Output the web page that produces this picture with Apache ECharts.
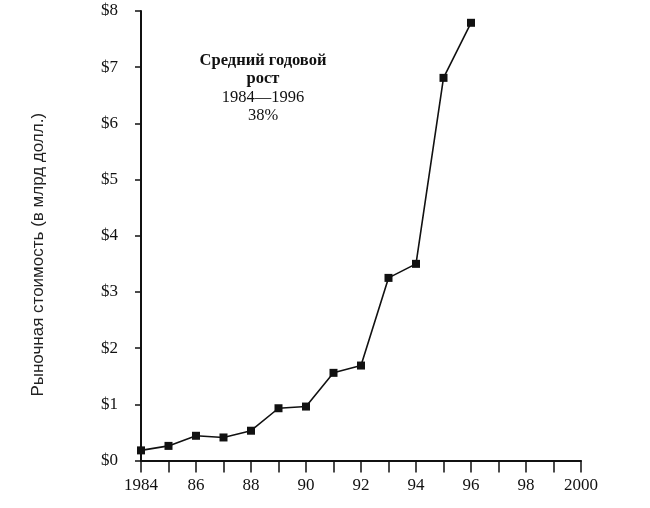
<!DOCTYPE html>
<html>
<head>
<meta charset="utf-8">
<script src="https://cdn.jsdelivr.net/npm/echarts@6/dist/echarts.min.js"></script>
<style>html,body{margin:0;padding:0;background:#fff;}#c{width:650px;height:508px;}</style>
</head>
<body>
<div id="c"></div>
<script>
var years = [1984, 1985, 1986, 1987, 1988, 1989, 1990, 1991, 1992, 1993, 1994, 1995, 1996];
var values = [0.18, 0.26, 0.44, 0.41, 0.53, 0.93, 0.96, 1.56, 1.69, 3.25, 3.50, 6.81, 7.79];
var yAxisTitle = 'Рыночная стоимость (в млрд долл.)';
var noteLines = ['Средний годовой', 'рост', '1984—1996', '38%'];

var serif = '"Liberation Serif", "DejaVu Serif", serif';
var sans = '"Liberation Sans", Arial, sans-serif';
var chart = echarts.init(document.getElementById('c'));
chart.setOption({
  animation: false,
  backgroundColor: '#fff',
  grid: { left: 141, right: 69, top: 11, bottom: 47.5, containLabel: false },
  xAxis: {
    type: 'value', min: 1984, max: 2000, interval: 1,
    axisLine: { lineStyle: { color: '#111', width: 2 } },
    axisTick: { show: true, inside: false, length: 12, lineStyle: { color: '#111', width: 1.5 } },
    splitLine: { show: false },
    axisLabel: {
      color: '#111', fontFamily: serif, fontSize: 17, margin: 17,
      formatter: function (v) {
        if (v % 2 !== 0) return '';
        if (v === 1984 || v === 2000) return String(v);
        return String(v).slice(2);
      }
    }
  },
  yAxis: {
    type: 'value', min: 0, max: 8, interval: 1,
    name: yAxisTitle, nameLocation: 'middle', nameGap: 94,
    nameTextStyle: { color: '#222', fontFamily: sans, fontSize: 17, padding: [0, 38, 0, 0] },
    axisLine: { show: true, lineStyle: { color: '#111', width: 2 } },
    axisTick: { show: true, inside: false, length: 6, lineStyle: { color: '#111', width: 1.5 } },
    splitLine: { show: false },
    axisLabel: { color: '#111', fontFamily: serif, fontSize: 17, margin: 23, formatter: function (v) { return '$' + v; } }
  },
  graphic: [{
    type: 'text', left: 263 - 80, top: 52,
    style: {
      text: '{b|' + noteLines[0] + '}\n{b|' + noteLines[1] + '}\n{n|' + noteLines[2] + '}\n{n|' + noteLines[3] + '}',
      width: 160, align: 'center',
      rich: {
        b: { fontFamily: serif, fontWeight: 'bold', fontSize: 16.5, lineHeight: 18.5, fill: '#111', align: 'center', width: 160 },
        n: { fontFamily: serif, fontSize: 16.5, lineHeight: 18.5, fill: '#111', align: 'center', width: 160 }
      }
    }
  }],
  series: [{
    type: 'line',
    data: years.map(function (y, i) { return [y, values[i]]; }),
    symbol: 'rect', symbolSize: 8,
    lineStyle: { color: '#111', width: 1.6 },
    itemStyle: { color: '#111' }
  }]
});
</script>
</body>
</html>
